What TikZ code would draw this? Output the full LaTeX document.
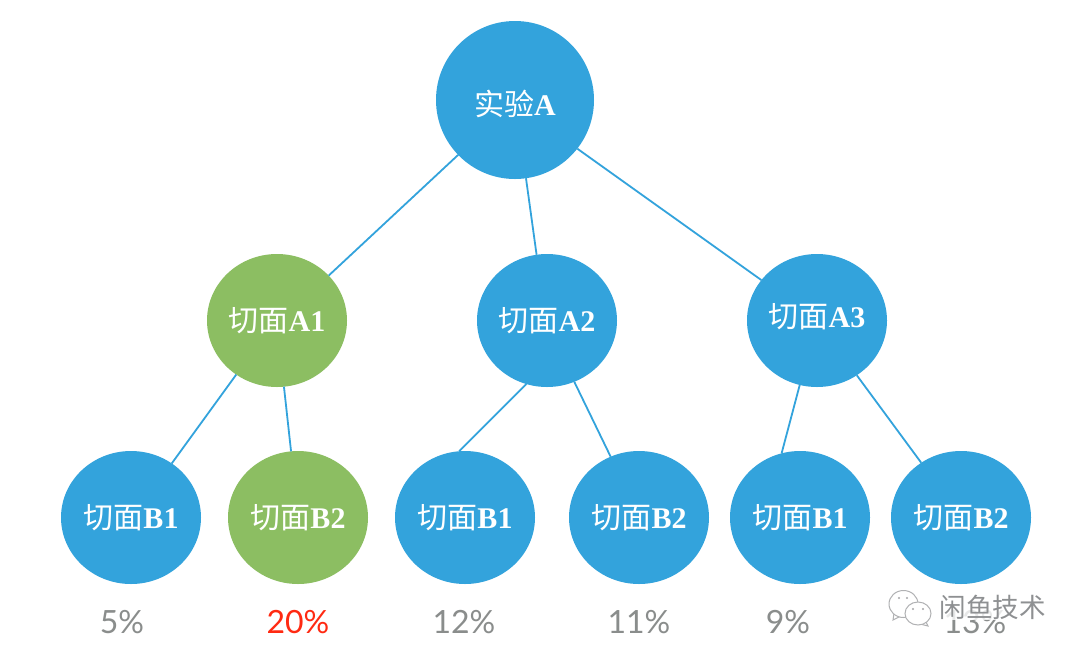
\documentclass[tikz,border=0pt]{standalone}
\usepackage{fontspec}
\usetikzlibrary{shapes.geometric}
\setmainfont{Liberation Serif}
\newfontfamily\cjk{Noto Sans CJK SC}
\newfontfamily\pct{Lato}
\definecolor{nodeblue}{HTML}{33A3DC}
\definecolor{nodegreen}{HTML}{8CBE62}
\definecolor{pctgray}{HTML}{8A8D8C}
\definecolor{pctred}{HTML}{FF2A12}
\definecolor{markgray}{HTML}{8E9092}
\newcommand{\liftlabel}[2]{\raisebox{#1}[\dimexpr\height+#1\relax][\dimexpr\depth+#1\relax]{#2}}
\tikzset{
  circ/.style={shape=ellipse,inner sep=0pt,outer sep=0pt,fill=nodeblue,text=white,minimum width=140pt,minimum height=133pt,font=\fontsize{30}{34}\selectfont},
  rootcirc/.style={circ,minimum width=158pt,minimum height=158pt,font=\fontsize{30}{34}\selectfont},
  greencirc/.style={fill=nodegreen},
  link/.style={draw=nodeblue,line width=1.8pt},
  pctlabel/.style={font=\pct\fontsize{32}{36}\selectfont,text=pctgray,inner sep=0pt,anchor=center},
  bubble/.style={draw=markgray!70,fill=white,line width=1pt},
  eye/.style={fill=markgray!80},
}
\begin{document}
\begin{tikzpicture}[x=1pt,y=-1pt]
\useasboundingbox[fill=white] (0,0) rectangle (1080,657);
\node[rootcirc] (A) at (515,100) {\liftlabel{-5pt}{{\cjk 实验}\textbf{A}}};
\node[circ,greencirc] (a1) at (277,320.5) {{\cjk 切面}\textbf{A1}};
\node[circ] (a2) at (547,320.5) {{\cjk 切面}\textbf{A2}};
\node[circ] (a3) at (817,320.5) {\liftlabel{4pt}{{\cjk 切面}\textbf{A3}}};
\node[circ] (b1) at (131,517.5) {{\cjk 切面}\textbf{B1}};
\node[circ,greencirc] (b2) at (298,517.5) {{\cjk 切面}\textbf{B2}};
\node[circ] (b3) at (465,517.5) {{\cjk 切面}\textbf{B1}};
\node[circ] (b4) at (639,517.5) {{\cjk 切面}\textbf{B2}};
\node[circ] (b5) at (800,517.5) {{\cjk 切面}\textbf{B1}};
\node[circ] (b6) at (961,517.5) {{\cjk 切面}\textbf{B2}};
\draw[link] (A.224) -- (a1.41.5);
\draw[link] (A.278.6) -- (a2.99.5);
\draw[link] (A.322.6) -- (a3.144.3);
\draw[link] (a1.233.5) -- (b1.53.5);
\draw[link] (a1.276) -- (b2.96);
\draw[link] (a2.252.4) -- (b3.95);
\draw[link] (a2.294.7) -- (b4.115);
\draw[link] (a3.255.3) -- (b5.106);
\draw[link] (a3.306.5) -- (b6.126);
\node[pctlabel] (p1) at (122,622) {5\%};
\node[pctlabel,text=pctred] (p2) at (298,622) {20\%};
\node[pctlabel] (p3) at (464,622) {12\%};
\node[pctlabel] (p4) at (639,622) {11\%};
\node[pctlabel] (p5) at (788,622) {9\%};
\node[pctlabel] (p6) at (975,622) {13\%};
% watermark
\node[inner sep=1pt,fill=white,fill opacity=.8,text opacity=1,text=markgray,font=\cjk\fontsize{26.5}{30}\selectfont] (mark) at (992.5,607) {闲鱼技术};
\draw[bubble] (894,613) -- (893,620) -- (901,616);
\node[bubble,shape=ellipse,minimum width=29pt,minimum height=27pt,inner sep=0pt] (bub1) at (903.5,604) {};
\draw[bubble] (925,620) -- (928,626) -- (920,624);
\node[bubble,shape=ellipse,minimum width=26pt,minimum height=23pt,inner sep=0pt] (bub2) at (918,613.5) {};
\fill[eye] (899,598) circle (1.2pt) (907,598) circle (1.2pt) (913,609) circle (1.2pt) (923,609) circle (1.2pt);
\end{tikzpicture}
\end{document}
